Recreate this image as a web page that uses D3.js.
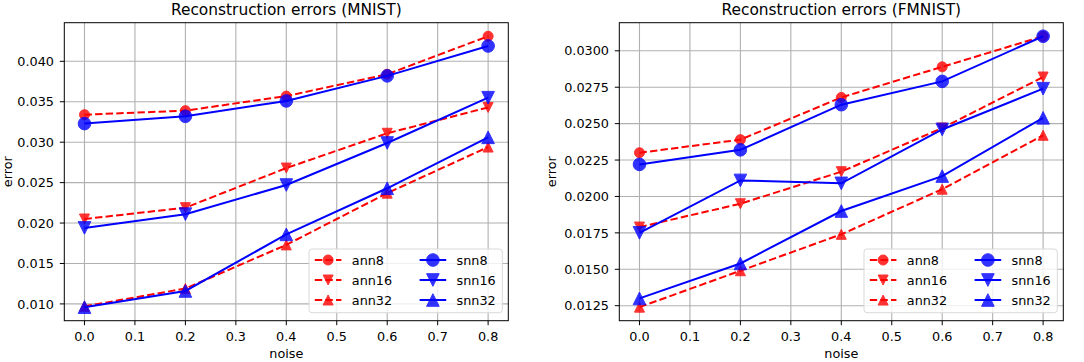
<!DOCTYPE html>
<html>
<head>
<meta charset="utf-8">
<script src="https://cdn.jsdelivr.net/npm/d3@7"></script>
<style>
	body { margin: 0; background: #fff; }
	svg { display: block; font-family: "DejaVu Sans", sans-serif; }
	.grid line { stroke: #b0b0b0; stroke-width: 1.1; }
	.tick-mark { stroke: #000; stroke-width: 1; }
	.tick-label, .axis-label, .legend-label { font-size: 12.8px; fill: #000; }
	.title { font-size: 15.4px; fill: #000; }
	.frame { fill: none; stroke: #000; stroke-width: 1; }
</style>
</head>
<body>
<svg id="chart" width="1084" height="362"></svg>
<script>
// x values and ticks
const noise = [0.0, 0.2, 0.4, 0.6, 0.8];
const xTicks = [0.0, 0.1, 0.2, 0.3, 0.4, 0.5, 0.6, 0.7, 0.8];

// MNIST
const mnistAnn8 = [0.0334, 0.0339, 0.0357, 0.0384, 0.0431];
const mnistAnn16 = [0.0205, 0.0219, 0.0268, 0.0311, 0.0343];
const mnistAnn32 = [0.0097, 0.0119, 0.0173, 0.0237, 0.0294];
const mnistSnn8 = [0.0323, 0.0332, 0.0351, 0.0382, 0.0419];
const mnistSnn16 = [0.0194, 0.0211, 0.0247, 0.0299, 0.0355];
const mnistSnn32 = [0.0096, 0.0116, 0.0186, 0.0243, 0.0306];
const mnistTicks = [0.010, 0.015, 0.020, 0.025, 0.030, 0.035, 0.040];

// FMNIST
const fmnistAnn8 = [0.0230, 0.0239, 0.0268, 0.0289, 0.0310];
const fmnistAnn16 = [0.0179, 0.0195, 0.0217, 0.0247, 0.0282];
const fmnistAnn32 = [0.0124, 0.0149, 0.0174, 0.0205, 0.0242];
const fmnistSnn8 = [0.0222, 0.0232, 0.0263, 0.0279, 0.0310];
const fmnistSnn16 = [0.0175, 0.0211, 0.0209, 0.0246, 0.0274];
const fmnistSnn32 = [0.0130, 0.0154, 0.0190, 0.0214, 0.0254];
const fmnistTicks = [0.0125, 0.0150, 0.0175, 0.0200, 0.0225, 0.0250, 0.0275, 0.0300];

const seriesNames = ['ann8', 'ann16', 'ann32', 'snn8', 'snn16', 'snn32'];
const seriesShapes = ['circle', 'down', 'up', 'circle', 'down', 'up'];

function buildSeries(values) {
	return values.map((v, i) => {
		const ann = i < 3;
		return {
			name: seriesNames[i],
			shape: seriesShapes[i],
			color: ann ? '#ff0000' : '#0000ff',
			dash: ann ? '7.4,3.2' : null,
			size: ann ? 10 : 12.6,
			values: v
		};
	});
}

// matplotlib-style marker path, centred on 0,0
function markerPath(shape, size) {
	const r = size / 2;
	if (shape === 'circle') {
		const p = d3.path();
		p.arc(0, 0, r, 0, 2 * Math.PI);
		return p.toString();
	}
	if (shape === 'down') return `M0,${r}L${-r},${-r}L${r},${-r}Z`;
	return `M0,${-r}L${-r},${r}L${r},${r}Z`;
}

function errorChart($svg, opts) {
	// dimension stuff
	const left = opts.left;
	const top = 22.7;
	const width = 444;
	const height = 298;

	const all = opts.series.flatMap(s => s.values);
	const yMin = d3.min(all);
	const yMax = d3.max(all);
	const yPad = (yMax - yMin) * 0.05;

	const scaleX = d3.scaleLinear().domain([-0.04, 0.84]).range([0, width]);
	const scaleY = d3.scaleLinear().domain([yMin - yPad, yMax + yPad]).range([height, 0]);

	const line = d3.line()
		.x((d, i) => scaleX(noise[i]))
		.y(d => scaleY(d));

	const $g = $svg.append('g')
		.attr('transform', `translate(${left}, ${top})`);

	// grid
	const $grid = $g.append('g').attr('class', 'grid');
	$grid.selectAll('.gx').data(xTicks).enter().append('line')
		.attr('x1', d => scaleX(d)).attr('x2', d => scaleX(d))
		.attr('y1', 0).attr('y2', height);
	$grid.selectAll('.gy').data(opts.yTicks).enter().append('line')
		.attr('x1', 0).attr('x2', width)
		.attr('y1', d => scaleY(d)).attr('y2', d => scaleY(d));

	// ticks + labels
	const $axis = $g.append('g');
	$axis.selectAll('.tx').data(xTicks).enter().append('line')
		.attr('class', 'tick-mark')
		.attr('x1', d => scaleX(d)).attr('x2', d => scaleX(d))
		.attr('y1', height).attr('y2', height + 4.5);
	$axis.selectAll('.lx').data(xTicks).enter().append('text')
		.attr('class', 'tick-label')
		.attr('x', d => scaleX(d))
		.attr('y', height + 20)
		.attr('text-anchor', 'middle')
		.text(d => d.toFixed(1));
	$axis.selectAll('.ty').data(opts.yTicks).enter().append('line')
		.attr('class', 'tick-mark')
		.attr('x1', -4.5).attr('x2', 0)
		.attr('y1', d => scaleY(d)).attr('y2', d => scaleY(d));
	$axis.selectAll('.ly').data(opts.yTicks).enter().append('text')
		.attr('class', 'tick-label')
		.attr('x', -10.3)
		.attr('y', d => scaleY(d) + 4.7)
		.attr('text-anchor', 'end')
		.text(d => d.toFixed(opts.digits));

	$g.append('text')
		.attr('class', 'axis-label')
		.attr('x', width / 2)
		.attr('y', height + 37.6)
		.attr('text-anchor', 'middle')
		.text('noise');
	$g.append('text')
		.attr('class', 'axis-label')
		.attr('transform', `translate(${opts.yLabelX}, ${height / 2})rotate(-90)`)
		.attr('text-anchor', 'middle')
		.text('error');

	$g.append('text')
		.attr('class', 'title')
		.attr('x', width / 2)
		.attr('y', -7.4)
		.attr('text-anchor', 'middle')
		.text(opts.title);

	// lines + markers
	const $vis = $g.append('g');
	opts.series.forEach(s => {
		$vis.append('path')
			.attr('d', line(s.values))
			.attr('fill', 'none')
			.attr('stroke', s.color)
			.attr('stroke-width', 2)
			.attr('stroke-dasharray', s.dash);
		$vis.selectAll(null).data(s.values).enter().append('path')
			.attr('d', markerPath(s.shape, s.size))
			.attr('transform', (d, i) => `translate(${scaleX(noise[i])}, ${scaleY(d)})`)
			.attr('fill', s.color)
			.attr('stroke', s.color)
			.attr('stroke-width', 1)
			.attr('opacity', 0.8);
	});

	$g.append('rect')
		.attr('class', 'frame')
		.attr('width', width)
		.attr('height', height);

	// legend
	const legW = 193.3;
	const legH = 63.7;
	const $leg = $g.append('g')
		.attr('transform', `translate(${width - 6 - legW}, ${height - 8 - legH})`);
	$leg.append('rect')
		.attr('width', legW).attr('height', legH)
		.attr('rx', 3)
		.attr('fill', '#fff').attr('fill-opacity', 0.8)
		.attr('stroke', '#d9d9d9');
	opts.series.forEach((s, i) => {
		const col = Math.floor(i / 3);
		const row = i % 3;
		const x0 = 5.8 + col * 104.8;
		const y0 = 11 + row * 20;
		$leg.append('line')
			.attr('x1', x0).attr('x2', x0 + 26.6)
			.attr('y1', y0).attr('y2', y0)
			.attr('stroke', s.color)
			.attr('stroke-width', 2)
			.attr('stroke-dasharray', s.dash);
		$leg.append('path')
			.attr('d', markerPath(s.shape, s.size))
			.attr('transform', `translate(${x0 + 13.3}, ${y0})`)
			.attr('fill', s.color)
			.attr('stroke', s.color)
			.attr('opacity', 0.8);
		$leg.append('text')
			.attr('class', 'legend-label')
			.attr('x', x0 + 37)
			.attr('y', y0 + 4.6)
			.text(s.name);
	});
}

const $svg = d3.select('#chart');
$svg.append('rect').attr('width', 1084).attr('height', 362).attr('fill', '#fff');

errorChart($svg, {
	title: 'Reconstruction errors (MNIST)',
	left: 64.3,
	yLabelX: -52,
	yTicks: mnistTicks,
	digits: 3,
	series: buildSeries([mnistAnn8, mnistAnn16, mnistAnn32, mnistSnn8, mnistSnn16, mnistSnn32])
});

errorChart($svg, {
	title: 'Reconstruction errors (FMNIST)',
	left: 619.3,
	yLabelX: -63,
	yTicks: fmnistTicks,
	digits: 4,
	series: buildSeries([fmnistAnn8, fmnistAnn16, fmnistAnn32, fmnistSnn8, fmnistSnn16, fmnistSnn32])
});
</script>
</body>
</html>
